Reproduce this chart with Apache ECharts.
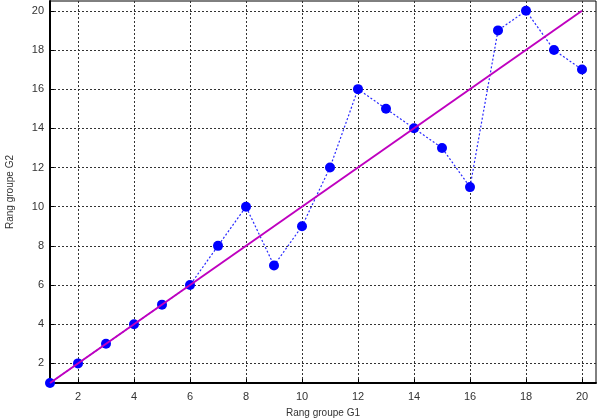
<!DOCTYPE html>
<meta charset="utf-8">
<style>
  html, body { margin: 0; padding: 0; background: #fff; }
  #container { width: 605px; height: 420px; }
</style>
<body>
<div id="container"></div>
<script src="https://cdn.jsdelivr.net/npm/echarts@6/dist/echarts.min.js"></script>
<script>

// rangs du groupe G1 et G2
var rangG1 = [1, 2, 3, 4, 5, 6, 7, 8, 9, 10, 11, 12, 13, 14, 15, 16, 17, 18, 19, 20];
var rangG2 = [1, 2, 3, 4, 5, 6, 8, 10, 7, 9, 12, 16, 15, 14, 13, 11, 19, 20, 18, 17];
// droite y = x
var diagX = [1, 20];
var diagY = [1, 20];
var tickValues = [2, 4, 6, 8, 10, 12, 14, 16, 18, 20];

var points = rangG1.map(function (x, i) { return [x, rangG2[i]]; });
var diag = diagX.map(function (x, i) { return [x, diagY[i]]; });

var myChart = echarts.init(document.getElementById('container'), null, { renderer: 'canvas' });

function axis(name, gap, margin) {
  return {
    type: 'value',
    min: 1,
    max: 20.5,
    name: name,
    nameLocation: 'middle',
    nameGap: gap,
    nameTextStyle: { color: '#333', fontSize: 10, fontFamily: 'Liberation Sans' },
    axisLine: { show: true, onZero: false, lineStyle: { color: '#000', width: 2 } },
    axisTick: { show: true, inside: true, length: 4, customValues: tickValues, lineStyle: { color: '#000' } },
    axisLabel: { customValues: tickValues, color: '#333', fontSize: 11, fontFamily: 'Liberation Sans', margin: margin },
    splitLine: { show: true, lineStyle: { color: '#333', type: [2, 2], width: 1 } }
  };
}

var option = {
  animation: false,
  grid: {
    left: 50, right: 9, top: 1, bottom: 37,
    containLabel: false, outerBoundsMode: 'none',
    show: true, borderColor: '#000', borderWidth: 1
  },
  xAxis: axis('Rang groupe G1', 25, 8),
  yAxis: axis('Rang groupe G2', 35, 6),
  series: [
    {
      type: 'line',
      data: points,
      symbol: 'circle',
      symbolSize: 10,
      itemStyle: { color: '#0000ff' },
      lineStyle: { color: '#2a2aff', width: 1.2, type: [2, 2] },
      z: 2
    },
    {
      type: 'line',
      data: diag,
      symbol: 'none',
      lineStyle: { color: '#bf00bf', width: 2 },
      z: 3
    }
  ]
};

myChart.setOption(option);
window.addEventListener('resize', myChart.resize);
</script>
</body>
